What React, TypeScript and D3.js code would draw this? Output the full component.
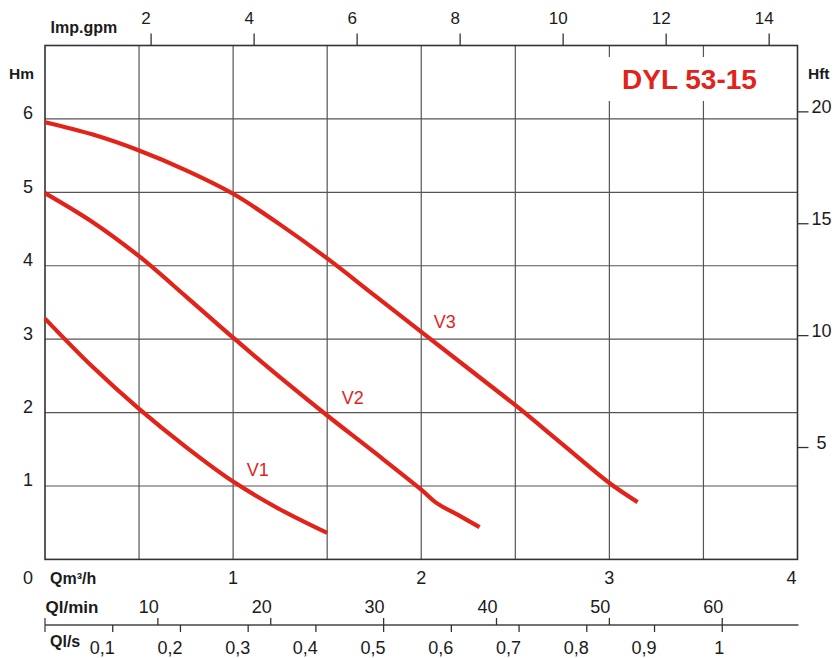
import React, { useEffect, useRef } from 'react';
import * as d3 from 'd3';

// flow in m3/h, head in m
const v1Flow = [0, 0.25, 0.5, 0.75, 1.0, 1.25, 1.5];
const v1Head = [3.28, 2.63, 2.05, 1.53, 1.06, 0.68, 0.36];

const v2Flow = [0, 0.25, 0.5, 0.75, 1.0, 1.25, 1.5, 1.75, 2.0, 2.08, 2.2, 2.31];
const v2Head = [4.99, 4.6, 4.13, 3.58, 3.02, 2.48, 1.96, 1.46, 0.95, 0.77, 0.6, 0.44];

const v3Flow = [0, 0.25, 0.5, 0.75, 1.0, 1.25, 1.5, 1.75, 2.0, 2.25, 2.5, 2.75, 3.0, 3.15];
const v3Head = [5.955, 5.79, 5.57, 5.3, 4.98, 4.56, 4.1, 3.6, 3.1, 2.6, 2.1, 1.57, 1.04, 0.78];

const curveNames = ['V1', 'V2', 'V3'];
const curveLabelFlow = [1.073, 1.578, 2.066];
const curveLabelHead = [1.14, 2.11, 3.15];

const hmTicks = [1, 2, 3, 4, 5, 6];
const hftTicks = [5, 10, 15, 20];
const gpmTicks = [2, 4, 6, 8, 10, 12, 14];
const qTicks = [1, 2, 3, 4];
const gridFlow = [0.5, 1, 1.5, 2, 2.5, 3, 3.5];
const lminTicks = [10, 20, 30, 40, 50, 60];
const lsTicks = [0.1, 0.2, 0.3, 0.4, 0.5, 0.6, 0.7, 0.8, 0.9, 1];

const RED = '#e2231a';
const INK = '#1b1b1b';
const FONT = '"Liberation Sans", Arial, Helvetica, sans-serif';

const App: React.FC = () => {
  const ref = useRef<SVGSVGElement>(null);

  useEffect(() => {
    if (!ref.current) return;
    const svg = d3.select(ref.current);
    svg.selectAll('*').remove();

    const left = 45, right = 797.5, top = 45.5, bottom = 559.4;

    const x = d3.scaleLinear().domain([0, 4]).range([left, right]);
    const y = d3.scaleLinear().domain([0, 7]).range([bottom, top]);
    const yFt = d3.scaleLinear().domain([0, 7 * 3.2808]).range([bottom, top]);
    // gpm scale as printed on the sheet (slightly shifted against m3/h)
    const xGpm = d3.scaleLinear().domain([-0.06, 14.55]).range([left, right]);
    const xLmin = d3.scaleLinear().domain([0, 4 * 1000 / 60]).range([left, right]);
    const xLs = d3.scaleLinear().domain([0, 4 / 3.6]).range([left, right]);

    const g = svg.append('g').style('font-family', FONT);

    // grid
    g.append('g').selectAll('line').data(gridFlow).enter().append('line')
      .attr('x1', d => x(d)).attr('x2', d => x(d))
      .attr('y1', top).attr('y2', bottom)
      .attr('stroke', '#555').attr('stroke-width', 1.2);
    g.append('g').selectAll('line').data(hmTicks).enter().append('line')
      .attr('x1', left).attr('x2', right)
      .attr('y1', d => y(d)).attr('y2', d => y(d))
      .attr('stroke', '#555').attr('stroke-width', 1.2);

    // white box behind the title
    g.append('rect')
      .attr('x', 600).attr('y', 57).attr('width', right - 601).attr('height', 44)
      .attr('fill', '#fff');

    // frame
    g.append('rect')
      .attr('x', left).attr('y', top).attr('width', right - left).attr('height', bottom - top)
      .attr('fill', 'none').attr('stroke', '#333').attr('stroke-width', 1.6);

    // curves
    const series = [
      v1Flow.map((q, i) => [q, v1Head[i]] as [number, number]),
      v2Flow.map((q, i) => [q, v2Head[i]] as [number, number]),
      v3Flow.map((q, i) => [q, v3Head[i]] as [number, number]),
    ];
    const line = d3.line<[number, number]>()
      .x(d => x(d[0])).y(d => y(d[1]))
      .curve(d3.curveCatmullRom.alpha(0.5));
    g.append('g').selectAll('path').data(series).enter().append('path')
      .attr('d', d => line(d) || '')
      .attr('fill', 'none').attr('stroke', RED).attr('stroke-width', 4.2)
      .attr('stroke-linecap', 'butt').attr('stroke-linejoin', 'round');

    g.append('g').selectAll('text').data(curveNames).enter().append('text')
      .attr('x', (d, i) => x(curveLabelFlow[i]))
      .attr('y', (d, i) => y(curveLabelHead[i]))
      .attr('fill', RED).style('font-size', '18px')
      .text(d => d);

    // title
    g.append('text')
      .attr('x', 622).attr('y', 89)
      .attr('fill', RED).style('font-size', '28px').style('font-weight', 'bold')
      .text('DYL 53-15');

    // left axis Hm
    g.append('text').attr('x', 9).attr('y', 79)
      .attr('fill', INK).style('font-size', '15.5px').style('font-weight', 'bold').text('Hm');
    g.append('g').selectAll('text').data(hmTicks).enter().append('text')
      .attr('x', 28).attr('y', d => y(d) + 0.5)
      .attr('text-anchor', 'middle').attr('fill', INK).style('font-size', '18px')
      .text(d => d);

    // right axis Hft
    g.append('text').attr('x', 808).attr('y', 79)
      .attr('fill', INK).style('font-size', '15.5px').style('font-weight', 'bold').text('Hft');
    const ft = g.append('g').selectAll('g').data(hftTicks).enter().append('g');
    ft.append('line')
      .attr('x1', right).attr('x2', right + 11)
      .attr('y1', d => yFt(d)).attr('y2', d => yFt(d))
      .attr('stroke', '#333').attr('stroke-width', 1.3);
    ft.append('text')
      .attr('x', d => (d < 10 ? right + 19 : right + 14)).attr('y', d => yFt(d) + 1)
      .attr('fill', INK).style('font-size', '18px')
      .text(d => d);

    // top axis Imp.gpm
    g.append('text').attr('x', 50.5).attr('y', 33)
      .attr('fill', INK).style('font-size', '16px').style('font-weight', 'bold').text('Imp.gpm');
    const gp = g.append('g').selectAll('g').data(gpmTicks).enter().append('g');
    gp.append('line')
      .attr('x1', d => xGpm(d)).attr('x2', d => xGpm(d))
      .attr('y1', top).attr('y2', top - 12)
      .attr('stroke', '#333').attr('stroke-width', 1.3);
    gp.append('text')
      .attr('x', d => xGpm(d) - 5).attr('y', 24)
      .attr('text-anchor', 'middle').attr('fill', INK).style('font-size', '17px')
      .text(d => d);

    // bottom axis Qm3/h
    g.append('text').attr('x', 28).attr('y', 584)
      .attr('text-anchor', 'middle').attr('fill', INK).style('font-size', '18px').text('0');
    g.append('text').attr('x', 50).attr('y', 584)
      .attr('fill', INK).style('font-size', '16px').style('font-weight', 'bold').text('Qm³/h');
    g.append('g').selectAll('text').data(qTicks).enter().append('text')
      .attr('x', d => (d === 4 ? x(d) - 1 : x(d)))
      .attr('y', 584)
      .attr('text-anchor', d => (d === 4 ? 'end' : 'middle'))
      .attr('fill', INK).style('font-size', '18px')
      .text(d => d);

    // Ql/min and Ql/s double axis
    const qlY = 625;
    g.append('line')
      .attr('x1', left).attr('x2', right + 1).attr('y1', qlY).attr('y2', qlY)
      .attr('stroke', '#444').attr('stroke-width', 1.5);
    g.append('line')
      .attr('x1', left).attr('x2', left).attr('y1', qlY - 7).attr('y2', qlY + 7)
      .attr('stroke', '#444').attr('stroke-width', 1.3);

    g.append('text').attr('x', 45.5).attr('y', 613)
      .attr('fill', INK).style('font-size', '17px').style('font-weight', 'bold').text('Ql/min');
    const lm = g.append('g').selectAll('g').data(lminTicks).enter().append('g');
    lm.append('line')
      .attr('x1', d => xLmin(d)).attr('x2', d => xLmin(d))
      .attr('y1', qlY).attr('y2', qlY - 7)
      .attr('stroke', '#333').attr('stroke-width', 1.3);
    lm.append('text')
      .attr('x', d => xLmin(d) - 9).attr('y', 613)
      .attr('text-anchor', 'middle').attr('fill', INK).style('font-size', '18px')
      .text(d => d);

    g.append('text').attr('x', 50).attr('y', 647)
      .attr('fill', INK).style('font-size', '16px').style('font-weight', 'bold').text('Ql/s');
    const ls = g.append('g').selectAll('g').data(lsTicks).enter().append('g');
    ls.append('line')
      .attr('x1', d => xLs(d)).attr('x2', d => xLs(d))
      .attr('y1', qlY).attr('y2', qlY + 7)
      .attr('stroke', '#333').attr('stroke-width', 1.3);
    ls.append('text')
      .attr('x', d => xLs(d) + 2).attr('y', 654)
      .attr('text-anchor', 'end').attr('fill', INK).style('font-size', '18px')
      .text(d => (d === 1 ? '1' : d3.format('.1f')(d).replace('.', ',')));
  }, []);

  return (
    <svg
      ref={ref}
      width={838}
      height={658}
      style={{ position: 'absolute', left: 0, top: 0, background: '#fff' }}
    />
  );
};

export default App;
